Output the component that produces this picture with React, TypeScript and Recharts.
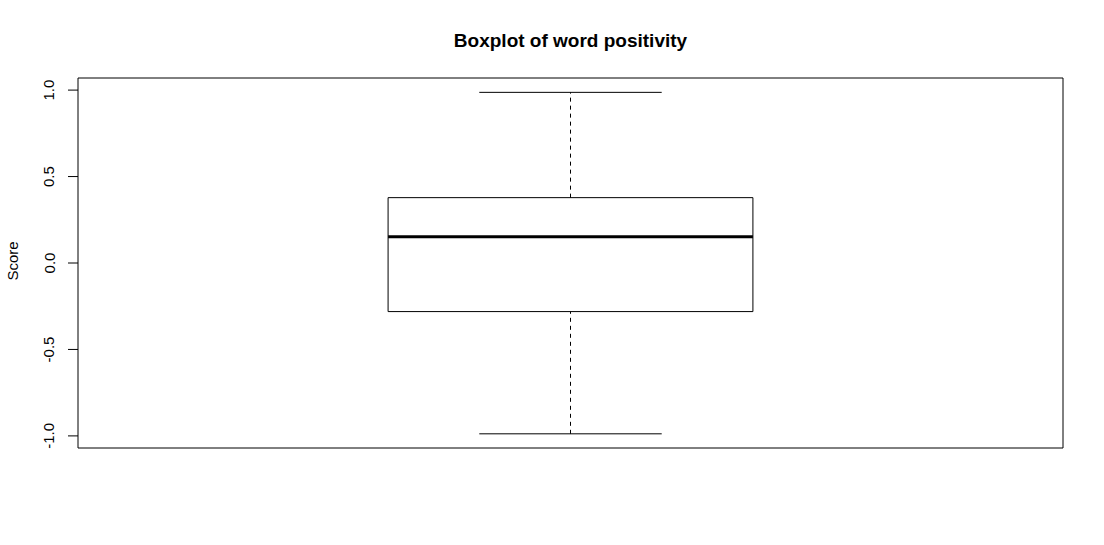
import React from "react";
import {
  ComposedChart,
  XAxis,
  YAxis,
  ReferenceArea,
  ReferenceLine,
} from "recharts";

// ---- data ----
const categories = ["Score"];
const categoryPositions = [1];
const whiskerLow = [-0.988];
const quartile1 = [-0.281];
const medians = [0.152];
const quartile3 = [0.378];
const whiskerHigh = [0.987];
const yTicks = [-1.0, -0.5, 0.0, 0.5, 1.0];

const chartData = categories.map((c, i) => ({
  name: c,
  pos: categoryPositions[i],
  min: whiskerLow[i],
  q1: quartile1[i],
  median: medians[i],
  q3: quartile3[i],
  max: whiskerHigh[i],
}));

const W = 1104;
const H = 545;
const FONT = "'Liberation Sans', Arial, Helvetica, sans-serif";
const BOX_HALF = 0.2;
const CAP_HALF = 0.1;
const X_DOMAIN: [number, number] = [0.46, 1.54];
const Y_DOMAIN: [number, number] = [-1.07, 1.07];

const RotatedTick = (props: any) => {
  const { x, y, payload } = props;
  const tx = x - 13.5;
  return (
    <text
      x={tx}
      y={y}
      transform={`rotate(-90, ${tx}, ${y})`}
      textAnchor="middle"
      fontFamily={FONT}
      fontSize={15}
      fill="#000"
    >
      {Number(payload.value).toFixed(1)}
    </text>
  );
};

const ScoreLabel = (props: any) => {
  const vb = props.viewBox || {};
  const tx = vb.x - 30;
  const ty = vb.y + vb.height / 2 - 2;
  return (
    <text
      x={tx}
      y={ty}
      transform={`rotate(-90, ${tx}, ${ty})`}
      textAnchor="middle"
      fontFamily={FONT}
      fontSize={15}
      fill="#000"
    >
      Score
    </text>
  );
};

export default function App() {
  return (
    <div
      style={{
        position: "absolute",
        left: 0,
        top: 0,
        width: W,
        height: H,
        background: "#fff",
      }}
    >
      <div
        style={{
          position: "absolute",
          left: 78,
          width: 985,
          top: 30,
          textAlign: "center",
          fontFamily: FONT,
          fontWeight: "bold",
          fontSize: 19,
          lineHeight: "22px",
          color: "#000",
        }}
      >
        Boxplot of word positivity
      </div>
      <ComposedChart
        width={W}
        height={H}
        data={chartData}
        margin={{ top: 78, right: 41, bottom: 97, left: 48 }}
      >
        <XAxis
          type="number"
          dataKey="pos"
          domain={X_DOMAIN}
          allowDataOverflow
          hide
        />
        <YAxis
          type="number"
          domain={Y_DOMAIN}
          allowDataOverflow
          ticks={yTicks}
          width={30}
          tickSize={10}
          tickMargin={0}
          axisLine={false}
          tickLine={{ stroke: "#000", strokeWidth: 1 }}
          tick={<RotatedTick />}
          interval={0}
          label={<ScoreLabel />}
        />
        {/* plot frame */}
        <ReferenceArea
          x1={X_DOMAIN[0]}
          x2={X_DOMAIN[1]}
          y1={Y_DOMAIN[0]}
          y2={Y_DOMAIN[1]}
          fill="none"
          stroke="#000"
          strokeWidth={1}
          ifOverflow="visible"
        />
        {chartData.map((d) => (
          <React.Fragment key={d.name}>
            <ReferenceLine
              segment={[
                { x: d.pos, y: d.q3 },
                { x: d.pos, y: d.max },
              ]}
              stroke="#000"
              strokeWidth={1}
              strokeDasharray="4 4"
            />
            <ReferenceLine
              segment={[
                { x: d.pos, y: d.min },
                { x: d.pos, y: d.q1 },
              ]}
              stroke="#000"
              strokeWidth={1}
              strokeDasharray="4 4"
            />
            <ReferenceLine
              segment={[
                { x: d.pos - CAP_HALF, y: d.max },
                { x: d.pos + CAP_HALF, y: d.max },
              ]}
              stroke="#000"
              strokeWidth={1}
            />
            <ReferenceLine
              segment={[
                { x: d.pos - CAP_HALF, y: d.min },
                { x: d.pos + CAP_HALF, y: d.min },
              ]}
              stroke="#000"
              strokeWidth={1}
            />
            <ReferenceArea
              x1={d.pos - BOX_HALF}
              x2={d.pos + BOX_HALF}
              y1={d.q1}
              y2={d.q3}
              fill="none"
              stroke="#000"
              strokeWidth={1}
            />
            <ReferenceLine
              segment={[
                { x: d.pos - BOX_HALF, y: d.median },
                { x: d.pos + BOX_HALF, y: d.median },
              ]}
              stroke="#000"
              strokeWidth={3}
            />
          </React.Fragment>
        ))}
      </ComposedChart>
    </div>
  );
}
